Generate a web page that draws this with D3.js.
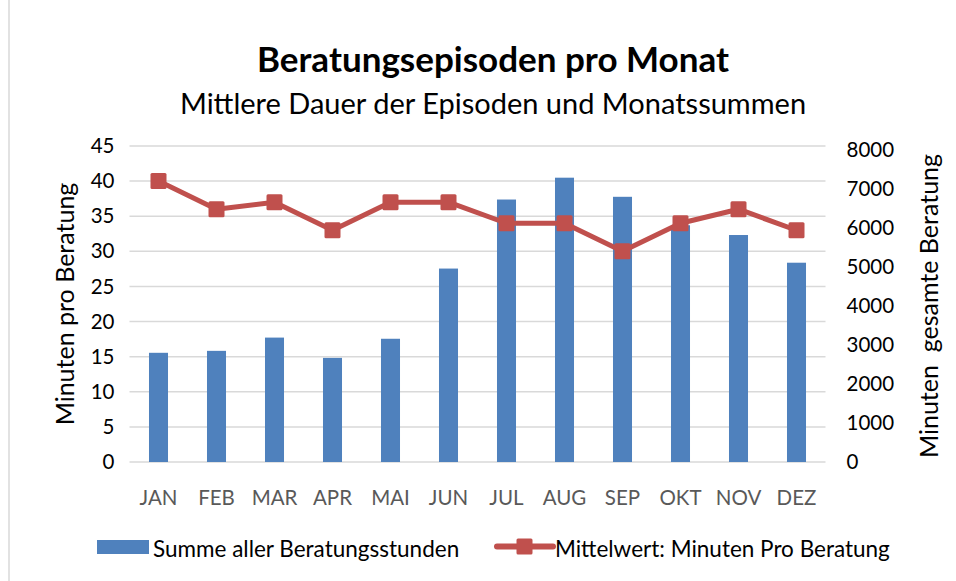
<!DOCTYPE html>
<html><head><meta charset="utf-8">
<script src="https://cdn.jsdelivr.net/npm/d3@7"></script>
<style>html,body{margin:0;padding:0;background:#fff;}svg{display:block;font-family:Lato,"Open Sans",sans-serif;}</style>
</head><body>
<svg id="chart" width="956" height="581"></svg>
<script>
const months = ["JAN","FEB","MAR","APR","MAI","JUN","JUL","AUG","SEP","OKT","NOV","DEZ"];
const totalMinutes = [2800,2850,3190,2670,3160,4960,6730,7290,6800,6070,5820,5110];
const meanMinutes = [40,36,37,33,37,37,34,34,30,34,36,33];
const leftTicks = [0,5,10,15,20,25,30,35,40,45];
const rightTicks = [0,1000,2000,3000,4000,5000,6000,7000,8000];
const title = "Beratungsepisoden pro Monat";
const subtitle = "Mittlere Dauer der Episoden und Monatssummen";
const leftTitle = "Minuten pro Beratung";
const rightTitle = "Minuten\u00A0 gesamte Beratung";
const barName = "Summe aller Beratungsstunden";
const lineName = "Mittelwert: Minuten Pro Beratung";

const svg = d3.select("#chart");
const blue = "#4f81bd", red = "#c0504d", grid = "#d9d9d9";
const FF = "Lato,sans-serif";

// chart border line at left
svg.append("line").attr("x1",9).attr("x2",9).attr("y1",0).attr("y2",581)
  .attr("stroke","#d9d9d9").attr("stroke-width",1.5);

const x = d3.scaleBand().domain(months).range([129.5,825.5]).paddingInner(0.672).paddingOuter(0.336);
const yL = d3.scaleLinear().domain([0,45]).range([462,146]);
const yR = d3.scaleLinear().domain([0,8000]).range([462,150]);

// gridlines
svg.append("g").selectAll("line").data(leftTicks).join("line")
  .attr("x1",129.5).attr("x2",825.5)
  .attr("y1",d=>yL(d)).attr("y2",d=>yL(d))
  .attr("stroke",grid).attr("stroke-width",1.5);

// left axis
const gL = svg.append("g").attr("transform","translate(129.5,0)")
  .call(d3.axisLeft(yL).tickValues(leftTicks).tickSize(0).tickPadding(15));
gL.select(".domain").remove();
gL.selectAll("text").attr("font-family",FF).attr("font-size",20.5).attr("fill","#000");

// right axis
const gR = svg.append("g").attr("transform","translate(825.5,0)")
  .call(d3.axisRight(yR).tickValues(rightTicks).tickFormat(d3.format("d")).tickSize(0).tickPadding(21));
gR.select(".domain").remove();
gR.selectAll("text").attr("font-family",FF).attr("font-size",20.5).attr("fill","#000");

// x axis
const gX = svg.append("g").attr("transform","translate(0,462)")
  .call(d3.axisBottom(x).tickSize(0).tickPadding(28));
gX.select(".domain").remove();
gX.selectAll("text").attr("font-family",FF).attr("font-size",20.5).attr("fill","#595959");

// bars
svg.append("g").selectAll("rect").data(totalMinutes).join("rect")
  .attr("x",(d,i)=>x(months[i])).attr("width",x.bandwidth())
  .attr("y",d=>yR(d)).attr("height",d=>yR(0)-yR(d))
  .attr("fill",blue);

// line
const line = d3.line().x((d,i)=>x(months[i])+x.bandwidth()/2).y(d=>yL(d));
svg.append("path").datum(meanMinutes).attr("d",line)
  .attr("fill","none").attr("stroke",red).attr("stroke-width",5).attr("stroke-linejoin","round");
svg.append("g").selectAll("rect").data(meanMinutes).join("rect")
  .attr("x",(d,i)=>x(months[i])+x.bandwidth()/2-8).attr("y",d=>yL(d)-8)
  .attr("width",16).attr("height",16).attr("rx",1.5).attr("fill",red);

// titles
svg.append("text").attr("x",493).attr("y",72).attr("text-anchor","middle")
  .attr("font-size",35).attr("font-weight","bold").attr("fill","#000").text(title);
svg.append("text").attr("x",493).attr("y",114).attr("text-anchor","middle")
  .attr("font-size",29).attr("fill","#000").text(subtitle);

// axis titles
svg.append("text").attr("transform","translate(74,304) rotate(-90)").attr("text-anchor","middle")
  .attr("font-size",25).attr("fill","#000").text(leftTitle);
svg.append("text").attr("transform","translate(938,306) rotate(-90)").attr("text-anchor","middle")
  .attr("font-size",25).attr("fill","#000").text(rightTitle);

// legend
const lg = svg.append("g");
lg.append("rect").attr("x",97).attr("y",540).attr("width",52).attr("height",14).attr("fill",blue);
lg.append("text").attr("x",153).attr("y",557).attr("font-size",22.5).attr("fill","#000").text(barName);
lg.append("line").attr("x1",497).attr("x2",553).attr("y1",546.5).attr("y2",546.5)
  .attr("stroke",red).attr("stroke-width",6).attr("stroke-linecap","round");
lg.append("rect").attr("x",516.5).attr("y",538.5).attr("width",16).attr("height",16).attr("rx",1.5).attr("fill",red);
lg.append("text").attr("x",555).attr("y",557).attr("font-size",22.5).attr("fill","#000").text(lineName);
</script>
</body></html>
